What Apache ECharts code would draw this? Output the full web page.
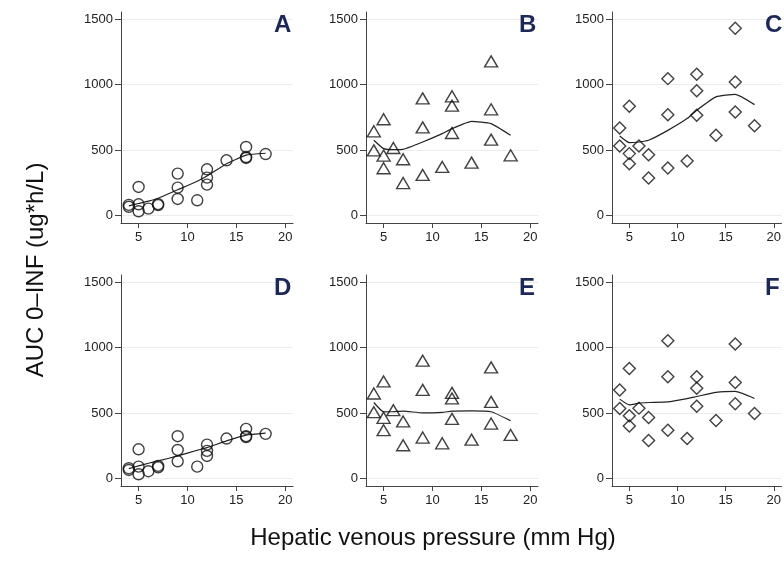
<!DOCTYPE html>
<html>
<head>
<meta charset="utf-8">
<script src="https://cdn.jsdelivr.net/npm/echarts@6/dist/echarts.min.js"></script>
<style>
  html, body { margin: 0; padding: 0; background: #fff; }
  #chart { width: 784px; height: 563px; }
</style>
</head>
<body>
<div id="chart"></div>
<script>
// hepatic venous pressure for each patient (mm Hg)
var hvp = [4, 4, 5, 5, 5, 6, 7, 7, 9, 9, 9, 11, 12, 12, 12, 14, 16, 16, 16, 18];
// AUC 0-INF per panel (ug*h/L)
var aucA = [80, 65, 217, 84, 31, 51, 85, 78, 319, 212, 125, 115, 352, 288, 235, 421, 523, 446, 439, 469];
var aucB = [643, 497, 735, 457, 360, 515, 429, 247, 895, 673, 309, 370, 911, 839, 630, 403, 1178, 811, 579, 459];
var aucC = [668, 531, 834, 472, 395, 531, 464, 286, 1046, 770, 362, 416, 1079, 954, 765, 612, 1431, 1020, 791, 686];
var aucD = [77, 64, 222, 89, 31, 54, 95, 84, 322, 217, 130, 89, 258, 210, 171, 304, 378, 322, 316, 340];
var aucE = [649, 506, 741, 463, 368, 521, 435, 253, 900, 677, 312, 268, 654, 611, 455, 296, 849, 585, 419, 332];
var aucF = [675, 534, 841, 478, 401, 537, 465, 289, 1053, 777, 368, 304, 777, 690, 552, 442, 1028, 734, 570, 496];
// smoothed fit lines
var fitX = [4, 5, 6, 7, 9, 11, 12, 14, 16, 18];
var fitA = [72, 90, 108, 130, 195, 260, 300, 395, 460, 475];
var fitB = [574, 510, 503, 505, 561, 625, 663, 719, 702, 612];
var fitC = [607, 556, 561, 574, 650, 740, 804, 906, 926, 847];
var fitD = [74, 95, 115, 133, 171, 215, 235, 286, 330, 345];
var fitE = [580, 509, 510, 514, 501, 505, 514, 516, 509, 440];
var fitF = [606, 562, 575, 580, 585, 610, 626, 657, 665, 611];
// tick labels
var xTicks = [5, 10, 15, 20];
var yTicks = [0, 500, 1000, 1500];
var panelLabels = ['A', 'B', 'C', 'D', 'E', 'F'];

var panels = [
    { pts: aucA, fit: fitA, symbol: 'circle', size: 11 },
    { pts: aucB, fit: fitB, symbol: 'triangle', size: [13, 11] },
    { pts: aucC, fit: fitC, symbol: 'diamond', size: [12, 12] },
    { pts: aucD, fit: fitD, symbol: 'circle', size: 11 },
    { pts: aucE, fit: fitE, symbol: 'triangle', size: [13, 11] },
    { pts: aucF, fit: fitF, symbol: 'diamond', size: [12, 12] }
];

var colLeft = [121, 366, 612];
var rowTop = [12, 275];

var myChart = echarts.init(document.getElementById('chart'));

var grids = [], xAxes = [], yAxes = [], series = [], titles = [];

panels.forEach(function (p, i) {
    var col = i % 3, row = Math.floor(i / 3);
    grids.push({ left: colLeft[col], top: rowTop[row], width: 172, height: 211 });
    xAxes.push({
        type: 'value', gridIndex: i, min: 3.2, max: 20.8,
        axisLine: { show: true, onZero: false, lineStyle: { color: '#444', width: 1 } },
        axisTick: { show: true, length: 5, customValues: xTicks, lineStyle: { color: '#444' } },
        axisLabel: { customValues: xTicks, color: '#222', fontSize: 13, fontFamily: 'Liberation Sans, Arial', margin: 8,
            formatter: function (v) { return String(v); } },
        splitLine: { show: false }
    });
    yAxes.push({
        type: 'value', gridIndex: i, min: -59, max: 1556,
        axisLine: { show: true, lineStyle: { color: '#444', width: 1 } },
        axisTick: { show: true, length: 6, customValues: yTicks, lineStyle: { color: '#444' } },
        axisLabel: { customValues: yTicks, color: '#222', fontSize: 13, fontFamily: 'Liberation Sans, Arial', margin: 8,
            formatter: function (v) { return String(v); } },
        splitLine: { show: true, lineStyle: { color: '#e9edf0', width: 1 } }
    });
    series.push({
        type: 'scatter', xAxisIndex: i, yAxisIndex: i,
        symbol: p.symbol, symbolSize: p.size,
        itemStyle: { color: 'rgba(255,255,255,0)', borderColor: '#111', borderWidth: 1.4 },
        data: hvp.map(function (x, k) { return [x, p.pts[k]]; }),
        z: 3
    });
    series.push({
        type: 'line', xAxisIndex: i, yAxisIndex: i,
        showSymbol: false, smooth: 0.15,
        lineStyle: { color: '#222', width: 1.2 },
        data: fitX.map(function (x, k) { return [x, p.fit[k]]; }),
        z: 2
    });
    titles.push({
        text: panelLabels[i], left: colLeft[col] + 153, top: rowTop[row] + 1, padding: 0,
        textStyle: { color: '#1c2957', fontSize: 24, fontWeight: 'bold', fontFamily: 'Liberation Sans, Arial' }
    });
});

myChart.setOption({
    backgroundColor: '#fff',
    animation: false,
    title: titles,
    grid: grids,
    xAxis: xAxes,
    yAxis: yAxes,
    series: series,
    graphic: [
        {
            type: 'text', x: 36, y: 270, rotation: Math.PI / 2,
            style: { text: 'AUC 0\u2013INF (ug*h/L)', align: 'center', verticalAlign: 'middle',
                font: '24px "Liberation Sans", Arial', fill: '#111' }
        },
        {
            type: 'text', x: 433, y: 538,
            style: { text: 'Hepatic venous pressure (mm Hg)', align: 'center', verticalAlign: 'middle',
                font: '24px "Liberation Sans", Arial', fill: '#111' }
        }
    ]
});

window.addEventListener('resize', function () {
    myChart.resize();
});
</script>
</body>
</html>
